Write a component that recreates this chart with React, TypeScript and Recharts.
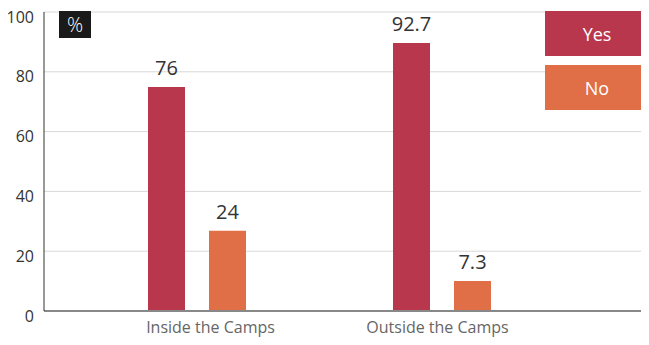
import { Bar, BarChart, CartesianGrid, LabelList, XAxis, YAxis } from 'recharts'

// categories and values
const categories = ['Inside the Camps', 'Outside the Camps']
// bar heights as drawn
const yesValues = [74.9, 89.6]
const noValues = [26.8, 10]
// numbers printed above the bars
const yesLabels = ['76', '92.7']
const noLabels = ['24', '7.3']
const yTicks = [0, 20, 40, 60, 80, 100]
const seriesNames = ['Yes', 'No']

const YES = '#b9374d'
const NO = '#e06f47'
const FONT = '"Open Sans", sans-serif'

const data = categories.map((c, i) => ({
	category: c,
	yes: yesValues[i],
	no: noValues[i],
	yesLabel: yesLabels[i],
	noLabel: noLabels[i],
}))

// category labels are not quite centred under their bars in the original
const tickShift = [14, -4]

const CategoryTick = (props: any) => {
	const { x, y, payload, index } = props
	return (
		<text
			x={x + (tickShift[index] ?? 0)}
			y={y}
			dy={14}
			textAnchor='middle'
			fill='#666'
			fontSize={16}
			fontFamily={FONT}
		>
			{payload.value}
		</text>
	)
}

// legend drawn as html boxes in the top right corner
const LegendBoxes = () => (
	<div
		style={{
			position: 'absolute',
			top: 11,
			right: 0,
			display: 'flex',
			flexDirection: 'column',
			gap: 9,
		}}
	>
		{seriesNames.map((name, i) => (
			<div
				key={name}
				style={{
					width: 104,
					height: 45,
					background: i === 0 ? YES : NO,
					color: '#fff',
					fontSize: 18,
					fontFamily: FONT,
					display: 'flex',
					alignItems: 'center',
					justifyContent: 'center',
				}}
			>
				{name}
			</div>
		))}
	</div>
)

export default function App() {
	return (
		<div style={{ position: 'relative', width: 649, height: 345, margin: -8, background: '#fff' }}>
			<BarChart
				width={649}
				height={345}
				data={data}
				margin={{ top: 12, right: 0, bottom: 0, left: 0 }}
				barSize={37}
				barGap={24}
			>
				<CartesianGrid vertical={false} stroke='#d8d8d8' />
				<XAxis
					dataKey='category'
					height={34}
					padding={{ left: 30, right: 85 }}
					tickLine={false}
					axisLine={{ stroke: '#888', strokeWidth: 2 }}
					tick={<CategoryTick />}
				/>
				<YAxis
					domain={[0, 100]}
					ticks={yTicks}
					width={44}
					tickSize={0}
					tickMargin={10}
					axisLine={{ stroke: '#333' }}
					tickLine={false}
					tick={{ fill: '#333', fontSize: 16, fontFamily: FONT, dy: 5 }}
				/>
				<Bar dataKey='yes' name='Yes' fill={YES} isAnimationActive={false}>
					<LabelList
						dataKey='yesLabel'
						position='top'
						offset={12}
						fill='#333'
						fontSize={20}
						fontFamily={FONT}
					/>
				</Bar>
				<Bar dataKey='no' name='No' fill={NO} isAnimationActive={false}>
					<LabelList
						dataKey='noLabel'
						position='top'
						offset={12}
						fill='#333'
						fontSize={20}
						fontFamily={FONT}
					/>
				</Bar>
			</BarChart>
			<LegendBoxes />
			<div
				style={{
					position: 'absolute',
					left: 59,
					top: 11,
					width: 32,
					height: 27,
					background: '#1a1a1a',
					color: '#fff',
					fontSize: 20,
					fontFamily: FONT,
					fontWeight: 300,
					display: 'flex',
					alignItems: 'center',
					justifyContent: 'center',
				}}
			>
				%
			</div>
		</div>
	)
}
